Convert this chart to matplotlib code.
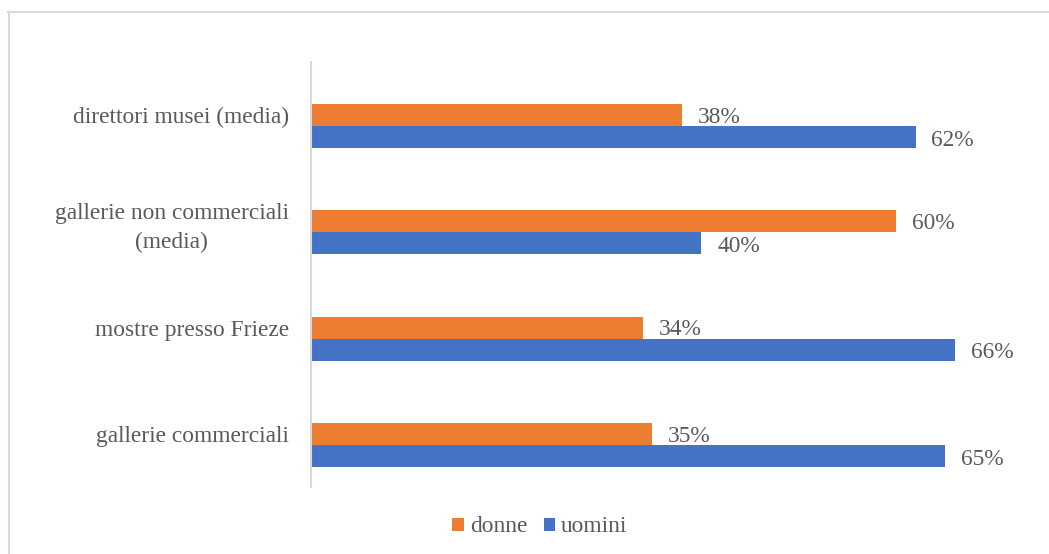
import matplotlib
matplotlib.use("Agg")
import matplotlib.pyplot as plt
from matplotlib.lines import Line2D
from matplotlib.patches import Patch

categories = ["direttori musei (media)", "gallerie non commerciali\n(media)",
              "mostre presso Frieze", "gallerie commerciali"]
donne = [0.38, 0.60, 0.34, 0.35]
uomini = [0.62, 0.40, 0.66, 0.65]
series_names = ["donne", "uomini"]
colors = ["#ED7D31", "#4472C4"]

plt.rcParams['font.family'] = ['Liberation Serif', 'DejaVu Serif']
W, H = 1049, 554
fig = plt.figure(figsize=(W / 100, H / 100), dpi=100)

left_px, right_px, top_px, bot_px = 311, 993.5, 62, 487
ax = fig.add_axes([left_px / W, 1 - bot_px / H, (right_px - left_px) / W, (bot_px - top_px) / H])

txt_color = "#595959"
fs = 16.8
bh = 0.207
y = list(range(len(categories)))
ax.barh(y, donne, height=bh, color=colors[0])
ax.barh([v + bh for v in y], uomini, height=bh, color=colors[1])

ax.set_xlim(0, 0.7)
ax.set_ylim(3.5, -0.5)

for i in y:
    ax.annotate(f"{round(donne[i]*100)}%", (donne[i], i + 0.02), xytext=(16, 0),
                textcoords="offset pixels", va="center", ha="left", fontsize=fs,
                color=txt_color, annotation_clip=False)
    ax.annotate(f"{round(uomini[i]*100)}%", (uomini[i], i + bh + 0.03), xytext=(16, 0),
                textcoords="offset pixels", va="center", ha="left", fontsize=fs,
                color=txt_color, annotation_clip=False)

ax.set_yticks(y)
ax.set_yticklabels(categories, fontsize=fs, color=txt_color, ha="right",
                   multialignment="center", linespacing=1.5, va="center_baseline")
ax.tick_params(axis="y", length=0, pad=16)
ax.set_xticks([])
for s in ["top", "right", "bottom"]:
    ax.spines[s].set_visible(False)
ax.spines["left"].set_color("#D9D9D9")
ax.spines["left"].set_linewidth(1.5)

handles = [Patch(facecolor=colors[0]), Patch(facecolor=colors[1])]
fig.legend(handles, series_names, loc="center", bbox_to_anchor=(540 / W, 1 - 527 / H),
           ncol=2, frameon=False, fontsize=fs, handlelength=0.5, handleheight=0.5,
           handletextpad=0.25, columnspacing=0.7, labelcolor=txt_color)

fig.add_artist(Line2D([8 / W, 1.0], [1 - 11.5 / H, 1 - 11.5 / H], transform=fig.transFigure,
                      color="#D9D9D9", lw=1.5))
fig.add_artist(Line2D([8.5 / W, 8.5 / W], [0, 1 - 11.5 / H], transform=fig.transFigure,
                      color="#D9D9D9", lw=1.5))

fig.savefig("out.png", dpi=100)
